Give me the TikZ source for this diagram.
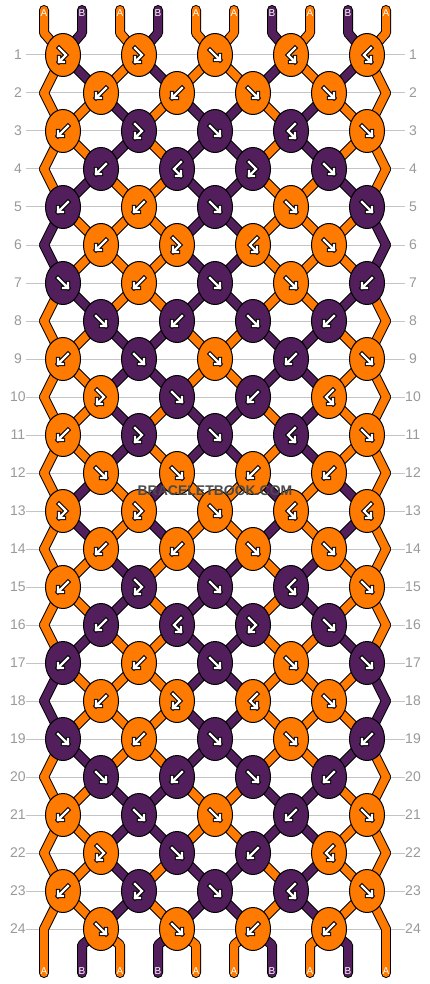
\documentclass[tikz,border=0pt]{standalone}
\usepackage{fontspec}
\setmainfont{Liberation Sans}
\usetikzlibrary{shapes}

\definecolor{strandA}{HTML}{FF7A00}
\definecolor{strandB}{HTML}{521F5C}
\definecolor{rowgray}{HTML}{999999}
\definecolor{linegray}{HTML}{C4C4C4}
\definecolor{markgray}{HTML}{4A4A4A}

\pgfdeclarelayer{lines}
\pgfdeclarelayer{strands}
\pgfsetlayers{lines,strands,main}

% arrow glyphs inside the knots
\def\arrf{(-5,-5)--(5,5) (5,0)--(5,5)--(0,5)}
\def\arrb{(5,-5)--(-5,5) (-5,0)--(-5,5)--(0,5)}
\def\arrfb{(-4,-7)--(3,0)--(-4,7) (-4,2)--(-4,7)--(1,7)}
\def\arrbf{(4,-7)--(-3,0)--(4,7) (4,2)--(4,7)--(-1,7)}

% node a thread slot sits on in a given row
\newcommand\slotnode[2]{%
  \ifodd#1 \pgfmathtruncatemacro\kk{(#2+1)/2}\edef\nm{k-#1-\kk}%
  \else\ifnum#2=1 \edef\nm{eL-#1}%
  \else\ifnum#2=10 \edef\nm{eR-#1}%
  \else\pgfmathtruncatemacro\kk{#2/2}\edef\nm{k-#1-\kk}\fi\fi\fi}

\begin{document}
\begin{tikzpicture}[x=1pt,y=-1pt,
  knot/.style={ellipse, draw=black, line width=1, fill=strand#1, minimum width=35, minimum height=43, inner sep=0},
  rim/.style={draw=black, line width=10, line cap=round, line join=round},
  core/.style={draw=strand#1, line width=8, line cap=round, line join=round},
  arrowrim/.style={draw=black, line width=4.4, line cap=rect},
  arrowcore/.style={draw=white, line width=2.4, line cap=rect},
  pics/arrow/.style={code={\draw[arrowrim] \csname arr#1\endcsname; \draw[arrowcore] \csname arr#1\endcsname;}},
  rowlab/.style={text=rowgray, font=\fontsize{14}{14}\selectfont, minimum width=16, inner sep=0},
  rowline/.style={draw=linegray, line width=1},
  endlab/.style={text=white, font=\fontsize{10}{10}\selectfont, inner sep=0}]

\useasboundingbox (0,0) rectangle (430,984);

% knots, 12 rows twice
\foreach \rep in {0,12}{
  \foreach \s/\knots in {
      1/{fb/A,fb/A,f/A,bf/A,bf/A},
      2/{b/A,b/A,f/A,f/A},
      3/{b/A,fb/B,f/B,bf/B,f/A},
      4/{b/B,bf/B,fb/B,f/B},
      5/{b/B,b/A,f/B,f/A,f/B},
      6/{b/A,fb/A,bf/A,f/A},
      7/{f/B,b/A,f/B,f/A,b/B},
      8/{f/B,b/B,f/B,b/B},
      9/{b/A,f/B,f/A,b/B,f/A},
      10/{fb/A,f/B,b/B,bf/A},
      11/{b/A,fb/B,f/B,bf/B,f/A},
      12/{f/A,f/A,b/A,b/A}}{
    \pgfmathtruncatemacro\R{\s+\rep}
    \pgfmathsetmacro\y{55+38*(\R-1)}
    \ifodd\R \def\xo{63}\else\def\xo{101}
      \coordinate (eL-\R) at (44,\y);
      \coordinate (eR-\R) at (386,\y);
    \fi
    \foreach \t/\c [count=\k] in \knots{
      \node[knot=\c] (k-\R-\k) at ({\xo+76*(\k-1)},\y) {};
      \pic at (k-\R-\k) {arrow=\t};
    }
  }
}

% row numbers and guide lines
\begin{pgfonlayer}{lines}
\foreach \R in {1,...,24}{
  \pgfmathsetmacro\y{55+38*(\R-1)}
  \node[rowlab] (nL-\R) at (18,\y) {\R};
  \node[rowlab] (nR-\R) at (413,\y) {\R};
  \draw[rowline] (nL-\R.east) -- (nR-\R.west);
}
\end{pgfonlayer}

% thread ends
\foreach \c [count=\i] in {A,B,A,B,A,A,B,A,B,A}{
  \pgfmathsetmacro\x{44+38*(\i-1)}
  \coordinate (tE-\i) at (\x,10);
  \coordinate (tB-\i) at (\x,33);
  \coordinate (bB-\i) at (\x,945);
  \coordinate (bE-\i) at (\x,973);
  \node[endlab] (la-\i) at (\x,13) {\c};
  \node[endlab] (lb-\i) at (\x,971) {\c};
}

% threads: black rim first, colour over it
\begin{pgfonlayer}{strands}
\foreach \pass in {rim,core}{
  \foreach \c [count=\i] in {A,B,A,B,A,A,B,A,B,A}{
    \slotnode{1}{\i}\let\ua\nm
    \slotnode{24}{\i}\let\ub\nm
    \draw[\pass=\c] (tE-\i) -- (tB-\i) -- (\ua.center);
    \draw[\pass=\c] (\ub.center) -- (bB-\i) -- (bE-\i);
  }
  \foreach \rep in {0,12}{
    \foreach \s/\cols in {
        1/{A,B,A,B,A,A,B,A,B,A},
        2/{A,A,B,A,B,B,A,B,A,A},
        3/{A,A,B,A,B,B,A,B,A,A},
        4/{A,B,A,A,B,B,A,A,B,A},
        5/{B,A,A,A,B,B,A,A,A,B},
        6/{B,A,A,A,B,B,A,A,A,B},
        7/{A,B,A,A,B,B,A,A,B,A},
        8/{A,A,B,B,A,A,B,B,A,A},
        9/{A,A,B,B,A,A,B,B,A,A},
        10/{A,A,B,A,B,B,A,B,A,A},
        11/{A,A,B,A,B,B,A,B,A,A},
        12/{A,B,A,B,A,A,B,A,B,A}}{
      \pgfmathtruncatemacro\R{\s+\rep}
      \ifnum\R<24
        \pgfmathtruncatemacro\Rn{\R+1}
        \foreach \c [count=\i] in \cols{
          \slotnode{\R}{\i}\let\ua\nm
          \slotnode{\Rn}{\i}\let\ub\nm
          \draw[\pass=\c] (\ua.center) -- (\ub.center);
        }
      \fi
    }
  }
}
\end{pgfonlayer}

\node[font=\bfseries\fontsize{14}{14}\selectfont, text=markgray] (mark) at (215,491) {BRACELETBOOK.COM};
\end{tikzpicture}
\end{document}
